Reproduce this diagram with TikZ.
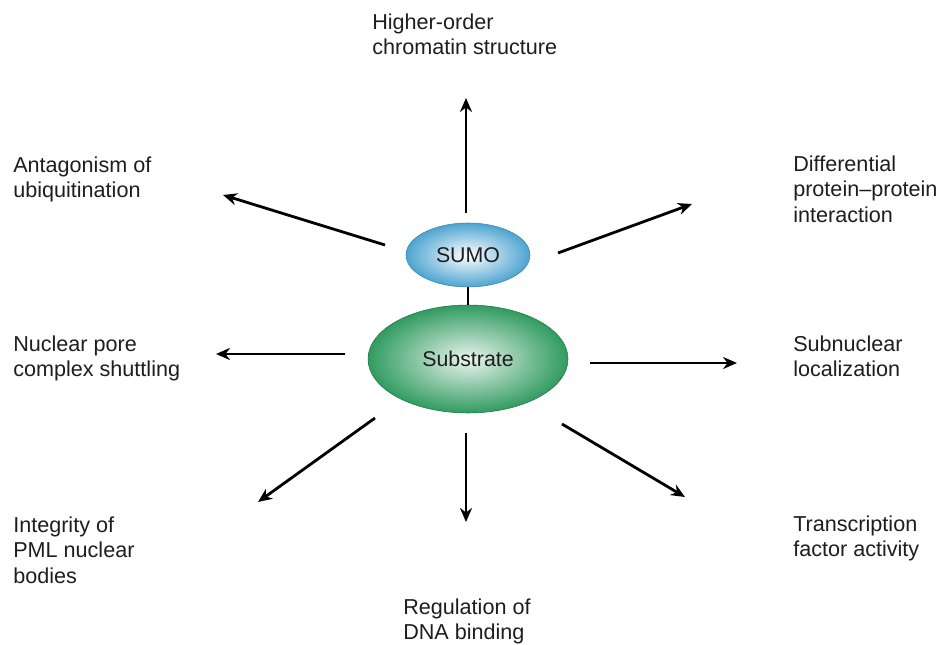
\documentclass[tikz,border=0pt]{standalone}
\usepackage{fontspec}
\setmainfont{Liberation Sans}
\usetikzlibrary{arrows.meta,shapes.geometric}
\definecolor{sumoblue}{RGB}{78,164,208}
\definecolor{subgreen}{RGB}{38,150,88}
\definecolor{labelgray}{RGB}{30,30,30}

\begin{document}
\begin{tikzpicture}[x=0.75pt, y=-0.75pt,
  lbl/.style={anchor=north west, inner sep=0pt, align=left, text=labelgray, font=\fontsize{16.2}{18.8}\selectfont},
  arr/.style={line width=2.1pt, -{Stealth[length=10.5pt, width=9pt]}},
  blob/.style={ellipse, inner sep=0pt, text=labelgray, font=\fontsize{16}{18.8}\selectfont}]

% Page
\useasboundingbox[fill=white] (0, 0) rectangle (939, 645);

% Centre: SUMO attached to its substrate
\node[blob, minimum width=150pt, minimum height=81pt, inner color=subgreen!10, outer color=subgreen!95, draw=subgreen!80!black, line width=0.4pt] (sub) at (468, 359) {Substrate};
\node[blob, minimum width=93pt, minimum height=48pt, inner color=white, outer color=sumoblue, draw=sumoblue!80!black, line width=0.4pt] (sumo) at (468, 255) {SUMO};
\draw[line width=2.1pt] (sumo.south) -- (sub.north);

% Outcome labels
\node[lbl] (chrom) at (372, 14) {Higher-order\\chromatin structure};
\node[lbl] (ubiq) at (13, 157) {Antagonism of\\ubiquitination};
\node[lbl] (ppi) at (793, 156) {Differential\\protein--protein\\interaction};
\node[lbl] (pore) at (13, 336) {Nuclear pore\\complex shuttling};
\node[lbl] (local) at (793, 336) {Subnuclear\\localization};
\node[lbl] (pml) at (13, 517) {Integrity of\\PML nuclear\\bodies};
\node[lbl] (dna) at (403, 599) {Regulation of\\DNA binding};
\node[lbl] (tf) at (793, 516) {Transcription\\factor activity};

% Arrow ends
\coordinate (chrom-s) at (466, 213);  \coordinate (chrom-e) at (466, 98);
\coordinate (ubiq-s) at (385, 245);   \coordinate (ubiq-e) at (223, 195);
\coordinate (ppi-s) at (558, 253);    \coordinate (ppi-e) at (692, 204);
\coordinate (pore-s) at (345, 354);   \coordinate (pore-e) at (216, 354);
\coordinate (local-s) at (590, 363);  \coordinate (local-e) at (737, 363);
\coordinate (pml-s) at (375, 418);    \coordinate (pml-e) at (258, 502);
\coordinate (dna-s) at (466, 433);    \coordinate (dna-e) at (466, 522);
\coordinate (tf-s) at (562, 424);     \coordinate (tf-e) at (685, 497);

% Arrows
\foreach \t in {chrom, ubiq, ppi, pore, local, pml, dna, tf} {
  \draw[arr] (\t-s) -- (\t-e);
}

\end{tikzpicture}
\end{document}
